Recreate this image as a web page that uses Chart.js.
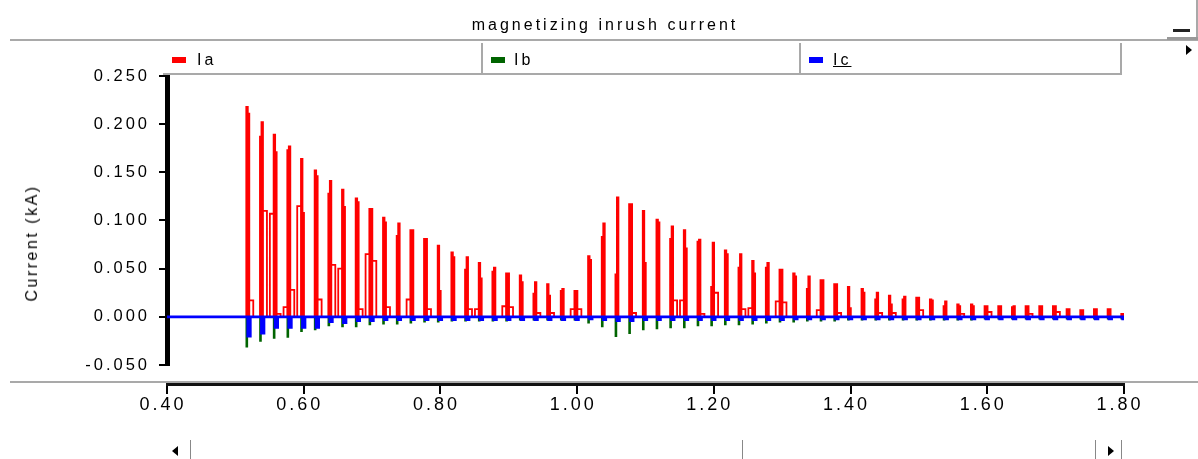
<!DOCTYPE html>
<html><head><meta charset="utf-8">
<script src="https://cdn.jsdelivr.net/npm/chart.js@4.4.1/dist/chart.umd.min.js"></script>
<style>
html,body{margin:0;padding:0;background:#fff;overflow:hidden;}
#wrap{position:relative;width:1198px;height:459px;background:#fff;}
canvas{position:absolute;left:0;top:0;}
.abs{position:absolute;}
.txt{font-family:"Liberation Sans",Arial,sans-serif;color:#000;letter-spacing:3px;white-space:nowrap;line-height:1;}
.gl{position:absolute;background:#a9a9a9;}
.sw{position:absolute;width:14px;height:6px;}
</style></head>
<body><div id="wrap">
<canvas id="c" width="1198" height="459"></canvas>

<div class="abs txt" style="left:405px;top:17px;width:400px;text-align:center;font-size:16px;">magnetizing inrush current</div>
<div class="gl" style="left:10px;top:39px;width:1188px;height:2px;"></div>
<div class="gl" style="left:1196px;top:0px;width:2px;height:40px;"></div>
<div class="gl" style="left:1167px;top:37px;width:31px;height:3px;background:#999;"></div>
<div class="abs" style="left:1173px;top:29px;width:17px;height:3px;background:#222;"></div>
<div class="abs" style="left:1186px;top:45px;width:0;height:0;border-left:6px solid #000;border-top:5px solid transparent;border-bottom:5px solid transparent;"></div>

<div class="gl" style="left:163px;top:73px;width:959px;height:2px;"></div>
<div class="gl" style="left:481px;top:43px;width:2px;height:31px;"></div>
<div class="gl" style="left:799px;top:43px;width:2px;height:31px;"></div>
<div class="gl" style="left:1120px;top:43px;width:2px;height:31px;"></div>

<div class="sw" style="left:172px;top:57px;background:#ff0000;"></div>
<div class="abs txt" style="left:197px;top:52px;font-size:16px;">Ia</div>
<div class="sw" style="left:491px;top:57px;background:#006400;"></div>
<div class="abs txt" style="left:514px;top:52px;font-size:16px;">Ib</div>
<div class="sw" style="left:809px;top:57px;background:#0000ff;"></div>
<div class="abs txt" style="left:833px;top:52px;font-size:16px;text-decoration:underline;">Ic</div>

<div class="abs txt" style="left:32px;top:243px;font-size:16px;letter-spacing:2.5px;transform:translate(-50%,-50%) rotate(-90deg);">Current (kA)</div>

<div class="gl" style="left:10px;top:381px;width:1188px;height:2px;"></div>

<div class="abs" style="left:172px;top:446px;width:0;height:0;border-right:6px solid #000;border-top:5px solid transparent;border-bottom:5px solid transparent;"></div>
<div class="gl" style="left:190px;top:440px;width:1px;height:19px;background:#888;"></div>
<div class="gl" style="left:742px;top:440px;width:1px;height:19px;background:#888;"></div>
<div class="gl" style="left:1095px;top:440px;width:1px;height:19px;background:#888;"></div>
<div class="gl" style="left:1121px;top:440px;width:1px;height:19px;background:#888;"></div>
<div class="abs" style="left:1108px;top:446px;width:0;height:0;border-left:6px solid #000;border-top:5px solid transparent;border-bottom:5px solid transparent;"></div>
</div>

<script>
// ---- data ----
const xTickValues = [0.4, 0.6, 0.8, 1.0, 1.2, 1.4, 1.6, 1.8];
const xTickLabels = ['0.40','0.60','0.80','1.00','1.20','1.40','1.60','1.80'];
const yTickValues = [-0.05, 0, 0.05, 0.1, 0.15, 0.2, 0.25];
const yTickLabels = ['-0.050','0.000','0.050','0.100','0.150','0.200','0.250'];

// time of each current pulse (s)
const cycleTimes = [
 0.516,0.536,0.556,0.576,0.596,0.616,0.636,0.656,0.676,0.696,
 0.716,0.736,0.756,0.776,0.796,0.816,0.836,0.856,0.876,0.896,
 0.916,0.936,0.956,0.976,0.996,1.016,1.036,1.056,1.076,1.096,
 1.116,1.136,1.156,1.176,1.196,1.216,1.236,1.256,1.276,1.296,
 1.316,1.336,1.356,1.376,1.396,1.416,1.436,1.456,1.476,1.496,
 1.516,1.536,1.556,1.576,1.596,1.616,1.636,1.656,1.676,1.696,
 1.716,1.736,1.756,1.776,1.796];

// Ia: small step before the pulse, first and second level of the pulse, small step after (kA)
const iaPre = [
 0,0,0.107,0.010,0.115,0,0,0.050,0,0.065,
 0,0,0.018,0,0,0,0,0.008,0,0.011,
 0,0,0,0,0.008,0,0,0,0,0,
 0,0,0.017,0,0,0,0,0.009,0,0.016,
 0,0,0.007,0,0,0,0,0,0,0,
 0,0,0,0,0,0,0,0,0,0,
 0,0,0,0,0];
const iaA = [
 0.218,0.187,0.189,0.173,0.164,0.152,0.128,0.132,0.123,0.112,
 0.103,0.084,0.090,0.081,0.074,0.067,0.049,0.056,0.047,0.045,
 0.043,0.024,0.034,0.027,0.027,0.063,0.083,0.044,0.117,0.110,
 0.101,0.081,0.090,0.078,0.031,0.069,0.051,0.058,0.051,0.049,
 0.045,0.029,0.038,0.034,0.031,0.029,0.018,0.022,0.018,0.020,
 0.018,0.011,0.013,0.013,0.011,0.011,0.010,0.011,0.011,0.011,
 0.008,0.007,0.008,0.008,0.003];
const iaB = [
 0.211,0.202,0.171,0.177,0.108,0.146,0.141,0.114,0.119,0.112,
 0.098,0.097,0.090,0.081,0.027,0.062,0.062,0.040,0.051,0.045,
 0.036,0.036,0.022,0.029,0.027,0.059,0.097,0.124,0.117,0.056,
 0.098,0.094,0.071,0.080,0.077,0.065,0.065,0.045,0.056,0.049,
 0.042,0.042,0.038,0.034,0.009,0.025,0.025,0.013,0.021,0.020,
 0.017,0.016,0.011,0.011,0.011,0.011,0.011,0.011,0.011,0.011,
 0.008,0.007,0.008,0.008,0.003];
const iaPost = [
 0.017,0.110,0.003,0.028,0,0.018,0.054,0,0.008,0.058,
 0.010,0,0,0.008,0,0,0.008,0,0,0.010,
 0,0.004,0.004,0,0.008,0,0,0,0.004,0,
 0,0.017,0,0.003,0.025,0,0.008,0,0,0.015,
 0,0,0,0.004,0,0,0.004,0.004,0,0.007,
 0,0,0.003,0,0.005,0,0,0.003,0,0.005,
 0,0,0,0,0];
// Ib and Ic negative pulse depth (kA)
const ibMin = [
 -0.031,-0.025,-0.022,-0.021,-0.015,-0.013,-0.009,-0.010,-0.010,-0.008,
 -0.007,-0.007,-0.006,-0.005,-0.005,-0.004,-0.004,-0.004,-0.004,-0.004,
 -0.003,-0.003,-0.003,-0.003,-0.003,-0.006,-0.010,-0.020,-0.017,-0.013,
 -0.012,-0.011,-0.011,-0.009,-0.009,-0.008,-0.008,-0.007,-0.006,-0.005,
 -0.005,-0.004,-0.004,-0.004,-0.003,-0.003,-0.003,-0.003,-0.003,-0.003,
 -0.003,-0.003,-0.003,-0.003,-0.002,-0.002,-0.002,-0.002,-0.002,-0.002,
 -0.002,-0.002,-0.002,-0.002,-0.002];
const icMin = [
 -0.020,-0.017,-0.011,-0.011,-0.011,-0.011,-0.005,-0.006,-0.004,-0.004,
 -0.003,-0.003,-0.003,-0.003,-0.003,-0.003,-0.003,-0.003,-0.003,-0.003,
 -0.003,-0.003,-0.003,-0.003,-0.003,-0.002,-0.003,-0.004,-0.004,-0.003,
 -0.003,-0.003,-0.003,-0.003,-0.003,-0.003,-0.003,-0.003,-0.003,-0.003,
 -0.002,-0.002,-0.002,-0.002,-0.002,-0.002,-0.002,-0.002,-0.002,-0.002,
 -0.002,-0.002,-0.002,-0.002,-0.002,-0.002,-0.002,-0.002,-0.002,-0.002,
 -0.002,-0.002,-0.002,-0.002,-0.002];

const tStart = 0.4, tEnd = 1.8;

// ---- pulse shape widths (s) ----
const PRE_W = 0.0055, HALF_W = 0.0022, POST_W = 0.0058;
const IB_W = 0.0015, IC_OFF = 0.0022, IC_W = 0.0036;

function buildIa(){
  const p = [{x:tStart,y:0}];
  cycleTimes.forEach((t,i)=>{
    if (iaPre[i] > 0) p.push({x:t-PRE_W,y:0},{x:t-PRE_W,y:iaPre[i]},{x:t,y:iaPre[i]});
    p.push({x:t,y:0},{x:t,y:iaA[i]},{x:t+HALF_W,y:iaA[i]},{x:t+HALF_W,y:0},
           {x:t+HALF_W,y:iaB[i]},{x:t+2*HALF_W,y:iaB[i]},{x:t+2*HALF_W,y:0});
    if (iaPost[i] > 0) p.push({x:t+2*HALF_W,y:iaPost[i]},{x:t+2*HALF_W+POST_W,y:iaPost[i]},{x:t+2*HALF_W+POST_W,y:0});
  });
  p.push({x:tEnd,y:0});
  return p;
}
function buildNeg(vals, off, w){
  const p = [{x:tStart,y:0}];
  cycleTimes.forEach((t,i)=>{
    const a = t+off;
    p.push({x:a,y:0},{x:a,y:vals[i]},{x:a+w,y:vals[i]},{x:a+w,y:0});
  });
  p.push({x:tEnd,y:0});
  return p;
}

const spacing = {
  id:'spacing',
  beforeDraw(chart){ chart.ctx.letterSpacing = '3px'; }
};

new Chart(document.getElementById('c'), {
  type:'line',
  data:{ datasets:[
    {label:'Ia', data:buildIa(), borderColor:'#ff0000', borderWidth:1.8, pointRadius:0, tension:0, order:3},
    {label:'Ib', data:buildNeg(ibMin,0,IB_W), borderColor:'#006400', borderWidth:1.6, pointRadius:0, tension:0, order:2},
    {label:'Ic', data:buildNeg(icMin,IC_OFF,IC_W), borderColor:'#0000ff', borderWidth:2.8, pointRadius:0, tension:0, order:1}
  ]},
  options:{
    responsive:false, animation:false, devicePixelRatio:1, events:[],
    layout:{padding:{left:0,right:74,top:76,bottom:94}},
    plugins:{legend:{display:false}, tooltip:{enabled:false}, title:{display:false}},
    scales:{
      x:{type:'linear', min:tStart, max:tEnd, position:{y:-0.0707},
        afterBuildTicks:s=>{ s.ticks = xTickValues.map(v=>({value:v})); },
        ticks:{callback:(v,i)=>xTickLabels[i], font:{family:'Liberation Sans', size:18}, color:'#000',
               padding:1, maxRotation:0, autoSkip:false, labelOffset:-4},
        grid:{display:true, drawOnChartArea:false, drawTicks:true, tickLength:8, color:'#000', lineWidth:2},
        border:{display:true, color:'#111', width:3}},
      y:{type:'linear', min:-0.05, max:0.25, position:'left',
        afterBuildTicks:s=>{ s.ticks = yTickValues.map(v=>({value:v})); },
        afterFit:s=>{ s.width = 167; },
        ticks:{callback:(v,i)=>yTickLabels[i], font:{family:'Liberation Sans', size:16.5}, color:'#000',
               padding:9, autoSkip:false},
        grid:{display:true, drawOnChartArea:false, drawTicks:true, tickLength:8, color:'#000', lineWidth:2},
        border:{display:true, color:'#000', width:5}}
    }
  },
  plugins:[spacing]
});
</script>
</body></html>
